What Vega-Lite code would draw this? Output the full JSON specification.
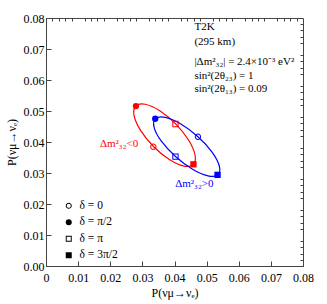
{
  "$schema": "https://vega.github.io/schema/vega-lite/v6.json",
  "width": 257,
  "height": 248,
  "autosize": {"type": "none"},
  "padding": {"left": 46, "top": 18, "right": 24, "bottom": 38},
  "config": {
    "view": {"stroke": "#444", "strokeWidth": 1},
    "font": "Liberation Serif",
    "axis": {"grid": false, "domainColor": "#444", "tickColor": "#444", "labelColor": "black", "titleColor": "black", "labelFont": "Liberation Serif", "titleFont": "Liberation Serif", "labelFontSize": 12, "titleFontSize": 12, "titleFontWeight": "normal", "labelFlush": false, "labelOverlap": false}
  },
  "datasets": {
    "curve": [
      {"h": "IH", "d": 0, "x": 0.03345, "y": 0.03855},
      {"h": "IH", "d": 30, "x": 0.02944, "y": 0.04374},
      {"h": "IH", "d": 60, "x": 0.02742, "y": 0.04852},
      {"h": "IH", "d": 90, "x": 0.02795, "y": 0.0516},
      {"h": "IH", "d": 120, "x": 0.03087, "y": 0.05217},
      {"h": "IH", "d": 150, "x": 0.03541, "y": 0.05006},
      {"h": "IH", "d": 180, "x": 0.04035, "y": 0.04585},
      {"h": "IH", "d": 210, "x": 0.04436, "y": 0.04066},
      {"h": "IH", "d": 240, "x": 0.04638, "y": 0.03589},
      {"h": "IH", "d": 270, "x": 0.04585, "y": 0.0328},
      {"h": "IH", "d": 300, "x": 0.04293, "y": 0.03224},
      {"h": "IH", "d": 330, "x": 0.03839, "y": 0.03434},
      {"h": "NH", "d": 0, "x": 0.0473, "y": 0.0417},
      {"h": "NH", "d": 30, "x": 0.04198, "y": 0.0458},
      {"h": "NH", "d": 60, "x": 0.03715, "y": 0.04794},
      {"h": "NH", "d": 90, "x": 0.0341, "y": 0.04755},
      {"h": "NH", "d": 120, "x": 0.03365, "y": 0.04474},
      {"h": "NH", "d": 150, "x": 0.03592, "y": 0.04025},
      {"h": "NH", "d": 180, "x": 0.0403, "y": 0.0353},
      {"h": "NH", "d": 210, "x": 0.04562, "y": 0.0312},
      {"h": "NH", "d": 240, "x": 0.05045, "y": 0.02906},
      {"h": "NH", "d": 270, "x": 0.0535, "y": 0.02945},
      {"h": "NH", "d": 300, "x": 0.05395, "y": 0.03226},
      {"h": "NH", "d": 330, "x": 0.05168, "y": 0.03675}
    ],
    "pts": [
      {"h": "IH", "delta": "δ = 0", "x": 0.0334, "y": 0.0385},
      {"h": "IH", "delta": "δ = π/2", "x": 0.0280, "y": 0.0516},
      {"h": "IH", "delta": "δ = π", "x": 0.0403, "y": 0.0458},
      {"h": "IH", "delta": "δ = 3π/2", "x": 0.0459, "y": 0.0328},
      {"h": "NH", "delta": "δ = 0", "x": 0.0473, "y": 0.0417},
      {"h": "NH", "delta": "δ = π/2", "x": 0.0340, "y": 0.0475},
      {"h": "NH", "delta": "δ = π", "x": 0.0403, "y": 0.0353},
      {"h": "NH", "delta": "δ = 3π/2", "x": 0.0534, "y": 0.0294}
    ],
    "labels": [
      {"h": "P", "x": 0.0462, "y": 0.0772, "t": "T2K"},
      {"h": "P", "x": 0.0462, "y": 0.0724, "t": "(295 km)"},
      {"h": "P", "x": 0.0462, "y": 0.0659, "t": "|Δm²₃₂| = 2.4×10⁻³ eV²"},
      {"h": "P", "x": 0.0462, "y": 0.0613, "t": "sin²(2θ₂₃) = 1"},
      {"h": "P", "x": 0.0462, "y": 0.0570, "t": "sin²(2θ₁₃) = 0.09"},
      {"h": "IH", "x": 0.0287, "y": 0.0394, "t": "Δm²₃₂<0"},
      {"h": "NH", "x": 0.0402, "y": 0.02635, "t": "Δm²₃₂>0"}
    ]
  },
  "layer": [
    {
      "data": {"name": "curve"},
      "mark": {"type": "line", "interpolate": "cardinal-closed", "strokeWidth": 1.2},
      "encoding": {
        "x": {"field": "x", "type": "quantitative", "scale": {"domain": [0, 0.08], "nice": false, "zero": false},
          "axis": {"values": [0, 0.01, 0.02, 0.03, 0.04, 0.05, 0.06, 0.07, 0.08], "labelExpr": "datum.value == 0 ? '0' : format(datum.value, '.2f')", "tickSize": -5, "labelPadding": 11, "title": "P(νμ→νₑ)", "titlePadding": 4}},
        "y": {"field": "y", "type": "quantitative", "scale": {"domain": [0, 0.08], "nice": false, "zero": false},
          "axis": {"values": [0, 0.01, 0.02, 0.03, 0.04, 0.05, 0.06, 0.07, 0.08], "format": ".2f", "tickSize": -5, "labelPadding": 7, "title": "P(νμ→νₑ)", "titlePadding": 5}},
        "color": {"field": "h", "type": "nominal", "scale": {"domain": ["IH", "NH", "P"], "range": ["#ff0000", "#0000ff", "#000000"]}, "legend": null},
        "order": {"field": "d", "type": "quantitative"}
      }
    },
    {
      "data": {"name": "pts"},
      "mark": {"type": "point", "filled": true, "size": 40, "opacity": 1},
      "encoding": {
        "x": {"field": "x", "type": "quantitative",
          "axis": {"values": [0.002, 0.004, 0.006, 0.008, 0.012, 0.014, 0.016, 0.018, 0.022, 0.024, 0.026, 0.028, 0.032, 0.034, 0.036, 0.038, 0.042, 0.044, 0.046, 0.048, 0.052, 0.054, 0.056, 0.058, 0.062, 0.064, 0.066, 0.068, 0.072, 0.074, 0.076, 0.078], "tickSize": -3, "labels": false, "domain": false, "title": null}},
        "y": {"field": "y", "type": "quantitative",
          "axis": {"values": [0.002, 0.004, 0.006, 0.008, 0.012, 0.014, 0.016, 0.018, 0.022, 0.024, 0.026, 0.028, 0.032, 0.034, 0.036, 0.038, 0.042, 0.044, 0.046, 0.048, 0.052, 0.054, 0.056, 0.058, 0.062, 0.064, 0.066, 0.068, 0.072, 0.074, 0.076, 0.078], "tickSize": -3, "labels": false, "domain": false, "title": null}},
        "color": {"field": "h", "type": "nominal", "legend": null},
        "shape": {"field": "delta", "type": "nominal",
          "scale": {"domain": ["δ = 0", "δ = π/2", "δ = π", "δ = 3π/2"],
            "range": ["M1,0A1,1,0,1,1,-1,0A1,1,0,1,1,1,0ZM0.68,0A0.68,0.68,0,1,0,-0.68,0A0.68,0.68,0,1,0,0.68,0Z", "circle", "M-1,-1H1V1H-1ZM-0.68,-0.68V0.68H0.68V-0.68Z", "square"]},
          "legend": {"title": null, "orient": "none", "legendX": 17, "legendY": 182, "padding": 0, "symbolSize": 36, "symbolFillColor": "black", "symbolStrokeColor": "transparent", "symbolStrokeWidth": 0, "labelFontSize": 11.5, "labelFont": "Liberation Serif", "labelColor": "black", "labelOffset": 5, "rowPadding": 3.5}}
      }
    },
    {
      "data": {"name": "labels"},
      "transform": [{"filter": "datum.h != 'IH'"}],
      "mark": {"type": "text", "align": "left", "baseline": "middle", "fontSize": 11, "font": "Liberation Serif"},
      "encoding": {
        "x": {"field": "x", "type": "quantitative", "axis": null},
        "y": {"field": "y", "type": "quantitative", "axis": null},
        "text": {"field": "t"},
        "color": {"field": "h", "type": "nominal", "legend": null}
      }
    },
    {
      "data": {"name": "labels"},
      "transform": [{"filter": "datum.h == 'IH'"}],
      "mark": {"type": "text", "align": "right", "baseline": "middle", "fontSize": 11, "font": "Liberation Serif"},
      "encoding": {
        "x": {"field": "x", "type": "quantitative", "axis": null},
        "y": {"field": "y", "type": "quantitative", "axis": null},
        "text": {"field": "t"},
        "color": {"field": "h", "type": "nominal", "legend": null}
      }
    }
  ],
  "resolve": {"axis": {"x": "independent", "y": "independent"}}
}
